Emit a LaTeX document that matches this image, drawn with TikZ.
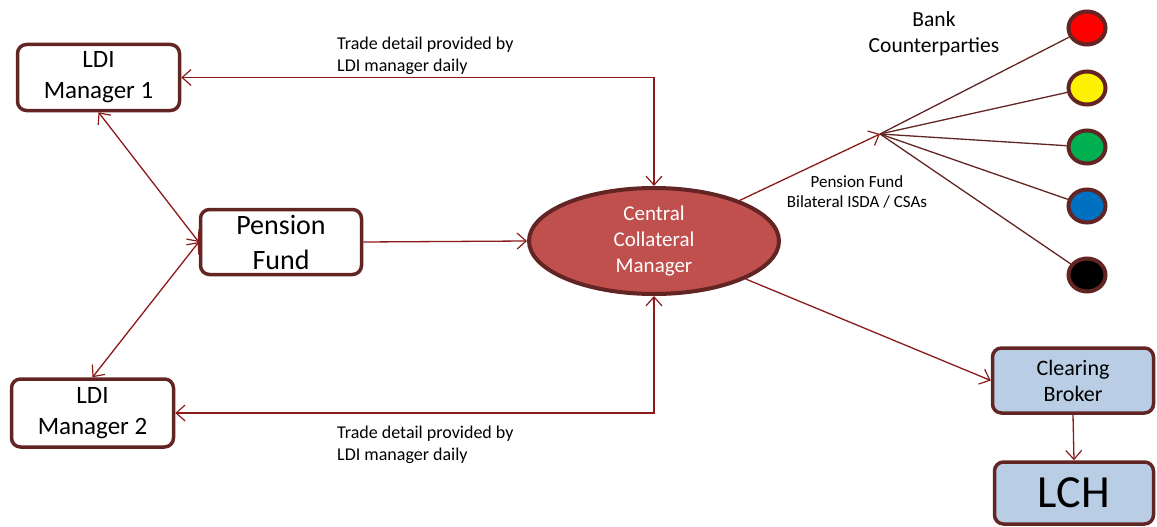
\documentclass[tikz,border=0pt]{standalone}
\usepackage{fontspec}
\setmainfont{Carlito}
\usetikzlibrary{arrows.meta,shapes.geometric}
\definecolor{bord}{HTML}{632523}
\definecolor{arr}{HTML}{8B1A1A}
\definecolor{ccmfill}{HTML}{C0504D}
\definecolor{cbfill}{HTML}{B9CDE5}
\definecolor{cgreen}{HTML}{00B050}
\definecolor{cblue}{HTML}{0070C0}
\tikzset{
  box/.style={draw=bord, line width=3.5pt, rounded corners=9pt, fill=white, align=center, inner sep=0pt},
  bigtxt/.style={font=\fontsize{25}{31}\selectfont},
  conn/.style={draw=arr, line width=1.3pt, -{Straight Barb[length=9pt,width=16pt,line width=1.2pt]}},
  bconn/.style={draw=arr, line width=1.3pt, {Straight Barb[length=9pt,width=16pt,line width=1.2pt]}-{Straight Barb[length=9pt,width=16pt,line width=1.2pt]}},
  spoke/.style={draw=bord, line width=1.3pt},
  bank/.style={draw=bord, line width=4pt, ellipse, minimum width=37pt, minimum height=33pt, inner sep=0pt},
  lbl/.style={align=left, inner sep=0pt, font=\fontsize{18}{22}\selectfont}
}
\begin{document}
\begin{tikzpicture}[x=1pt,y=-1pt]
\useasboundingbox (0,0) rectangle (1157,527);
% nodes
\node[box, bigtxt, minimum width=162pt, minimum height=66pt] (ldi1) at (98.5,77.5) {LDI\\Manager 1};
\node[box, bigtxt, minimum width=162pt, minimum height=68pt] (ldi2) at (92.5,413) {LDI\\Manager 2};
\node[box, minimum width=161pt, minimum height=65pt, font=\fontsize{28}{35}\selectfont] (pf) at (281,242) {Pension\\Fund};
\node[draw=bord, line width=4pt, fill=ccmfill, ellipse, minimum width=250pt, minimum height=106pt, inner sep=0pt, text=white, align=center, font=\fontsize{21}{26}\selectfont] (ccm) at (654,241) {Central\\Collateral\\Manager};
\node[box, fill=cbfill, minimum width=161pt, minimum height=65pt, font=\fontsize{22}{26}\selectfont] (cb) at (1073,380.5) {Clearing\\Broker};
\node[box, fill=cbfill, minimum width=159pt, minimum height=62pt, font=\fontsize{46}{50}\selectfont] (lch) at (1074,493) {LCH};
% banks
\node[bank, fill=red] (b1) at (1087,28) {};
\node[bank, fill=yellow] (b2) at (1087,88) {};
\node[bank, fill=cgreen] (b3) at (1087,147) {};
\node[bank, fill=cblue] (b4) at (1087,206) {};
\node[bank, fill=black] (b5) at (1087,275) {};
\coordinate (hub) at (880,134);
% labels
\node[align=center, inner sep=0pt, font=\fontsize{21.5}{26}\selectfont] (bclbl) at (934,34) {Bank\\Counterparties};
\node[align=center, inner sep=0pt, font=\fontsize{17}{20}\selectfont] (isda) at (857,192) {Pension Fund\\Bilateral ISDA / CSAs};
\node[lbl, anchor=west] (t1) at (337,56) {Trade detail  provided by\\LDI manager  daily};
\node[lbl, anchor=west] (t2) at (337,445) {Trade detail  provided by\\LDI manager  daily};
% connectors
\draw[bconn] (ldi1.east) -| (ccm.north);
\draw[bconn] (ldi2.east) -| (ccm.south);
\draw[bconn] (ldi1.south) -- (pf.west);
\draw[bconn] (ldi2.north) -- (pf.west);
\draw[conn] (pf.east) -- (ccm.west);
\draw[conn] (ccm) -- (hub);
\draw[conn] (ccm) -- (cb.west);
\draw[conn] (cb.south) -- (lch.north);
\foreach \b in {b1,b2,b3,b4,b5} \draw[spoke] (hub) -- (\b);
\end{tikzpicture}
\end{document}
